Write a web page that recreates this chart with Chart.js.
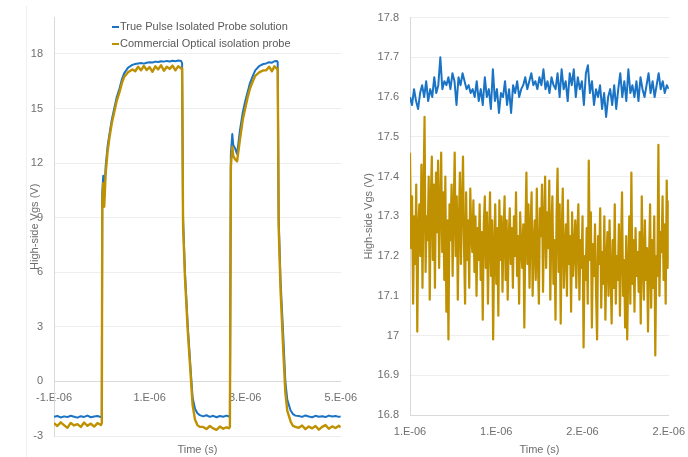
<!DOCTYPE html>
<html lang="en">
<head>
<meta charset="UTF-8" />
<title>High-side Vgs: probe comparison</title>
<script src="https://cdn.jsdelivr.net/npm/chart.js@4"></script>
<style>
  body { margin: 0; background: #fff; width: 688px; height: 457px; overflow: hidden; position: relative;
         font-family: "Liberation Sans", Arial, sans-serif; }
  .box { position: absolute; top: 0; }
  #leftBox { left: 0; }
  #rightBox { left: 344px; }
  .frame { position: absolute; left: 26px; top: 6px; width: 1px; height: 451px; background: #f0f0f0; }
  .legend { position: absolute; left: 112px; top: 18px; font-size: 11px; color: #595959; z-index: 2; }
  .legend div { height: 17px; line-height: 17px; white-space: nowrap; }
  .legend span { display: inline-block; width: 7px; height: 2px; vertical-align: middle; margin-right: 1px; }
</style>
</head>
<body>
  <div class="frame"></div>
  <div class="box" id="leftBox"><canvas id="leftChart" width="367" height="457"></canvas></div>
  <div class="box" id="rightBox"><canvas id="rightChart" width="351" height="457"></canvas></div>
  <div class="legend">
    <div><span style="background:#1a73c4"></span>True Pulse Isolated Probe solution</div>
    <div><span style="background:#bf9000"></span>Commercial Optical isolation probe</div>
  </div>

<script>
// left chart: full switching waveform, time in microseconds
const leftTime = [
  -1.00, -0.93, -0.86, -0.79, -0.72, -0.65, -0.58, -0.51, -0.44, -0.37, -0.30, -0.23, -0.16, -0.09, -0.02,
  0.00, 0.01, 0.03, 0.05, 0.08, 0.12, 0.16, 0.21, 0.26, 0.31, 0.37, 0.42, 0.47, 0.55, 0.64,
  0.70, 0.76, 0.82, 0.88, 0.94, 1.00, 1.06, 1.12, 1.18, 1.24, 1.30, 1.36, 1.42, 1.48, 1.54, 1.60, 1.66,
  1.68, 1.70, 1.74, 1.80, 1.86, 1.90, 1.95, 2.00, 2.05,
  2.12, 2.19, 2.26, 2.33, 2.40, 2.47, 2.54, 2.61, 2.66,
  2.68, 2.70, 2.73, 2.75, 2.79, 2.83, 2.89, 2.95, 3.00, 3.05, 3.10, 3.16, 3.21, 3.30, 3.38,
  3.44, 3.50, 3.56, 3.61, 3.66,
  3.68, 3.70, 3.74, 3.80, 3.84, 3.88, 3.95, 4.00, 4.05,
  4.12, 4.19, 4.26, 4.33, 4.40, 4.47, 4.54, 4.61, 4.68, 4.75, 4.82, 4.89, 4.96, 5.00
];
const leftBlue = [
  -1.95, -1.90, -1.98, -1.92, -1.96, -1.89, -1.94, -1.99, -1.91, -1.95, -1.88, -1.97, -1.93, -1.90, -1.96,
  -1.9, 10.4, 11.3, 10.1, 11.8, 12.9, 13.6, 14.4, 15.0, 15.6, 16.1, 16.6, 16.95, 17.25, 17.40,
  17.45, 17.48, 17.50, 17.47, 17.52, 17.55, 17.53, 17.58, 17.56, 17.60, 17.58, 17.62, 17.59, 17.63, 17.60, 17.64, 17.61,
  17.5, 9.0, 6.0, 3.0, 0.6, -0.9, -1.5, -1.75, -1.85,
  -1.92, -1.86, -1.95, -1.89, -1.97, -1.90, -1.94, -1.88, -1.93,
  -1.9, 12.5, 13.6, 13.0, 12.8, 12.5, 13.8, 14.8, 15.4, 15.9, 16.4, 16.8, 17.1, 17.35, 17.45,
  17.48, 17.55, 17.52, 17.60, 17.62,
  17.55, 9.0, 5.5, 2.3, 0.0, -1.0, -1.6, -1.8, -1.88,
  -1.90, -1.95, -1.87, -1.93, -1.97, -1.89, -1.94, -1.91, -1.96, -1.88, -1.93, -1.90, -1.95, -1.92
];
const leftGold = [
  -2.30, -2.45, -2.25, -2.40, -2.55, -2.28, -2.42, -2.35, -2.50, -2.26, -2.44, -2.32, -2.48, -2.29, -2.40,
  -2.3, 9.8, 10.9, 9.6, 11.4, 12.6, 13.4, 14.2, 14.8, 15.4, 15.9, 16.4, 16.75, 17.0, 17.15,
  17.05, 17.30, 17.10, 17.35, 17.12, 17.28, 17.02, 17.32, 17.15, 17.38, 17.08, 17.30, 17.18, 17.36, 17.10, 17.33, 17.20,
  17.2, 8.6, 5.7, 2.7, 0.3, -1.3, -2.1, -2.4, -2.5,
  -2.50, -2.62, -2.45, -2.58, -2.66, -2.48, -2.60, -2.52, -2.57,
  -2.5, 11.8, 12.9, 12.4, 12.2, 12.1, 13.3, 14.4, 15.0, 15.6, 16.1, 16.5, 16.8, 17.0, 17.1,
  17.10, 17.30, 17.05, 17.32, 17.20,
  17.2, 8.5, 5.0, 1.5, -0.6, -1.6, -2.2, -2.45, -2.5,
  -2.55, -2.42, -2.62, -2.48, -2.58, -2.45, -2.65, -2.50, -2.40, -2.60, -2.47, -2.56, -2.44, -2.52
];
const leftXTicks = [-1, 1, 3, 5];
const leftYTicks = [-3, 0, 3, 6, 9, 12, 15, 18];

// right chart: zoom on the on-state plateau, evenly sampled between rightStart and rightEnd (us)
const rightStart = 1.0;
const rightEnd = 1.75;
const rightBlue = [
  17.60, 17.58, 17.62, 17.59, 17.57, 17.61, 17.63, 17.60, 17.64, 17.59, 17.62,
  17.60, 17.65, 17.61, 17.63, 17.70, 17.62, 17.64, 17.63,
  17.65, 17.62, 17.66, 17.64, 17.58, 17.65, 17.63, 17.66, 17.64, 17.62,
  17.63, 17.61, 17.62, 17.60, 17.64, 17.59, 17.62, 17.58, 17.65, 17.60,
  17.62, 17.57, 17.67, 17.59, 17.62, 17.56, 17.61, 17.60, 17.64, 17.58, 17.62, 17.56,
  17.63, 17.61, 17.64, 17.60, 17.62, 17.63, 17.65, 17.62, 17.64, 17.66, 17.63, 17.64,
  17.62, 17.65, 17.63, 17.67, 17.62, 17.64, 17.61, 17.65, 17.63, 17.62, 17.66, 17.60, 17.67,
  17.62, 17.64, 17.59, 17.66, 17.63, 17.67, 17.60, 17.65, 17.62, 17.64, 17.58, 17.66, 17.68,
  17.61, 17.64, 17.58, 17.62, 17.60, 17.63, 17.57, 17.61, 17.55, 17.60, 17.62, 17.58,
  17.63, 17.57, 17.62, 17.66, 17.60, 17.64, 17.59, 17.67, 17.61, 17.63, 17.60, 17.64, 17.59,
  17.65, 17.62, 17.60, 17.63, 17.66, 17.61, 17.64, 17.60, 17.63, 17.66, 17.62, 17.64, 17.61, 17.63, 17.62
];
const rightGold = [
  17.46, 17.22, 17.35, 17.08, 17.30, 17.18, 17.38, 17.01, 17.27, 17.33,
  17.20, 17.43, 17.12, 17.36, 17.55, 17.16, 17.30, 17.24, 17.40, 17.09,
  17.34, 17.45, 17.19, 17.38, 17.12, 17.41, 17.26, 17.44, 17.17, 17.32,
  17.46, 17.21, 17.36, 17.14, 17.40, 17.06, 17.29, 16.99, 17.33, 17.24,
  17.38, 17.15, 17.31, 17.46, 17.20, 17.35, 17.09, 17.28, 17.41, 17.18,
  17.33, 17.45, 17.22, 17.08, 17.36, 17.19, 17.29, 17.12, 17.37, 17.25,
  17.21, 17.34, 17.16, 17.30, 17.10, 17.27, 17.19, 17.33, 17.14, 17.26,
  17.04, 17.28, 17.35, 17.17, 17.31, 17.08, 17.24, 17.36, 17.15, 17.29,
  16.99, 17.22, 17.33, 17.13, 17.27, 17.05, 17.34, 17.19, 17.30, 17.11,
  17.26, 17.35, 17.14, 17.29, 17.09, 17.24, 17.32, 17.18, 17.27, 17.12,
  17.30, 17.20, 17.36, 17.15, 17.25, 17.08, 17.31, 17.22, 17.17, 17.28,
  17.02, 17.26, 17.41, 17.18, 17.33, 17.12, 17.27, 17.36, 17.10, 17.23,
  17.29, 17.14, 17.37, 17.20, 17.08, 17.32, 17.25, 17.38, 17.11, 17.28,
  17.40, 17.17, 17.31, 17.22, 17.39, 17.09, 17.27, 17.35, 17.13, 17.24,
  17.04, 17.30, 17.42, 17.16, 17.33, 17.03, 17.26, 17.37, 17.12, 17.21,
  17.28, 17.10, 17.34, 17.18, 17.25, 17.06, 17.31, 17.15, 17.22, 17.29,
  17.12, 17.26, 17.33, 17.09, 17.24, 17.17, 17.30, 16.97, 17.20, 17.14,
  17.27, 17.08, 17.44, 17.19, 17.31, 17.02, 17.23, 17.15, 17.28, 17.11,
  16.99, 17.25, 17.18, 17.32, 17.07, 17.21, 17.13, 17.30, 17.04, 17.19,
  17.26, 17.10, 17.29, 17.16, 17.03, 17.24, 17.12, 17.33, 17.08, 17.20,
  17.14, 17.28, 17.05, 17.22, 17.36, 17.10, 17.19, 17.02, 17.25, 16.99,
  17.17, 17.30, 17.08, 17.41, 17.13, 17.24, 17.06, 17.27, 17.15, 17.21,
  17.11, 17.26, 17.03, 17.35, 17.18, 17.09, 17.29, 17.14, 17.22, 17.01,
  17.19, 17.33, 17.07, 17.24, 17.12, 17.30, 16.95, 17.20, 17.15, 17.48,
  17.10, 17.26, 17.21, 17.35, 17.14, 17.28, 17.08, 17.39, 17.17, 17.34
];
const rightXTicks = [1.0, 1.25, 1.5, 1.75];
const rightYTicks = [16.8, 16.9, 17.0, 17.1, 17.2, 17.3, 17.4, 17.5, 17.6, 17.7, 17.8];

const seriesNames = ["True Pulse Isolated Probe solution", "Commercial Optical isolation probe"];
const blue = "#1a73c4";
const gold = "#bf9000";
const textGrey = "#6e6e6e";

Chart.defaults.font.family = '"Liberation Sans", Arial, sans-serif';
Chart.defaults.font.size = 11;
Chart.defaults.color = textGrey;

function sampled(values) {
  const step = (rightEnd - rightStart) / (values.length - 1);
  return values.map((v, i) => ({ x: rightStart + i * step, y: v }));
}
function paired(times, values) {
  return times.map((t, i) => ({ x: t, y: values[i] }));
}
function fixedTicks(list) {
  return (scale) => { scale.ticks = list.map((v) => ({ value: v })); };
}
const expLabel = (v) => Math.round(v) + ".E-06";

const common = {
  responsive: false,
  animation: false,
  elements: { point: { radius: 0 }, line: { tension: 0, borderJoinStyle: "round" } },
  plugins: { legend: { display: false }, tooltip: { enabled: false } },
};

new Chart(document.getElementById("leftChart"), {
  type: "line",
  data: {
    datasets: [
      { label: seriesNames[0], data: paired(leftTime, leftBlue), borderColor: blue, borderWidth: 2, order: 2 },
      { label: seriesNames[1], data: paired(leftTime, leftGold), borderColor: gold, borderWidth: 2.4, order: 1 },
    ],
  },
  options: {
    ...common,
    layout: { padding: { left: 0, right: 0, top: 17, bottom: 0 } },
    scales: {
      x: {
        type: "linear", position: { y: 0 }, min: -1, max: 5,
        afterBuildTicks: fixedTicks(leftXTicks),
        ticks: { padding: 10, autoSkip: false, maxRotation: 0, callback: expLabel },
        grid: { display: false, drawTicks: false },
        border: { color: "#d9d9d9" },
      },
      x2: {
        type: "linear", position: "bottom", min: -1, max: 5,
        ticks: { display: false }, grid: { display: false, drawTicks: false }, border: { display: false },
        title: { display: true, text: "Time (s)", padding: 0 },
        afterFit: (s) => { s.height = 21; },
      },
      y: {
        min: -3, max: 20,
        afterBuildTicks: fixedTicks(leftYTicks),
        ticks: { padding: 11, autoSkip: false },
        grid: { color: "#eeeeee", drawTicks: false },
        border: { color: "#d9d9d9" },
        title: { display: true, text: "High-side Vgs (V)", padding: { top: 28, bottom: 0 } },
        afterFit: (s) => { s.width = 54; },
      },
    },
  },
});

new Chart(document.getElementById("rightChart"), {
  type: "line",
  data: {
    datasets: [
      { label: seriesNames[0], data: sampled(rightBlue), borderColor: blue, borderWidth: 2 },
      { label: seriesNames[1], data: sampled(rightGold), borderColor: gold, borderWidth: 2.2 },
    ],
  },
  options: {
    ...common,
    layout: { padding: { left: 0, right: 0, top: 15, bottom: 0 } },
    scales: {
      x: {
        type: "linear", min: rightStart, max: rightEnd,
        afterBuildTicks: fixedTicks(rightXTicks),
        ticks: { padding: 10, autoSkip: false, maxRotation: 0, callback: expLabel },
        grid: { display: false, drawTicks: false },
        border: { color: "#d9d9d9" },
        title: { display: true, text: "Time (s)", padding: 0 },
        afterFit: (s) => { s.height = 42; },
      },
      y: {
        min: 16.8, max: 17.8,
        afterBuildTicks: fixedTicks(rightYTicks),
        ticks: { padding: 11, autoSkip: false, callback: (v) => String(Number(v.toFixed(1))) },
        grid: { color: "#eeeeee", drawTicks: false },
        border: { color: "#d9d9d9" },
        title: { display: true, text: "High-side Vgs (V)", padding: { top: 18, bottom: 0 } },
        afterFit: (s) => { s.width = 66; },
      },
    },
  },
});
</script>
</body>
</html>
